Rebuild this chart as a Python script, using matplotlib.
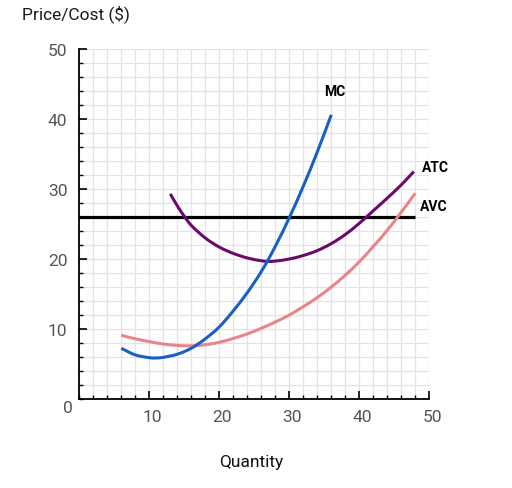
import matplotlib
matplotlib.use("Agg")
import matplotlib.pyplot as plt
from matplotlib.ticker import MultipleLocator
from matplotlib.transforms import ScaledTranslation
from matplotlib.path import Path
from matplotlib.patches import PathPatch

plt.rcParams['font.family'] = ['Roboto', 'DejaVu Sans']

# Data
mc_x = [6, 8, 10, 11, 12, 14, 16, 18, 20, 22, 24, 26, 28, 30, 32, 34, 36]
mc_y = [7.24, 6.3, 5.9, 5.86, 5.95, 6.4, 7.25, 8.6, 10.3, 12.6, 15.2, 18.2, 21.8, 25.9, 30.4, 35.3, 40.6]

avc_x = [6, 8, 10, 12, 14, 16, 18, 20, 22, 24, 26, 28, 30, 32, 34, 36, 38, 40, 42, 44, 46, 48]
avc_y = [9.1, 8.6, 8.2, 7.85, 7.65, 7.6, 7.75, 8.1, 8.65, 9.3, 10.1, 11.0, 12.0, 13.2, 14.5, 16.0, 17.7, 19.6, 21.8, 24.1, 26.7, 29.4]

atc_x = [13, 14, 15, 16, 18, 20, 22, 24, 26, 27, 28, 30, 32, 34, 36, 38, 40, 42, 44, 46, 47.8]
atc_y = [29.3, 27.6, 26.1, 24.8, 23.0, 21.7, 20.8, 20.15, 19.75, 19.65, 19.7, 20.0, 20.5, 21.2, 22.2, 23.5, 25.1, 26.9, 28.7, 30.6, 32.5]

price_x = [0, 48]
price_y = [26, 26]

x_ticks = [10, 20, 30, 40, 50]
y_ticks = [10, 20, 30, 40, 50]


def smooth_path(xs, ys):
    """Cubic Hermite (Bezier) path through the given points."""
    n = len(xs)
    m = []
    for i in range(n):
        if i == 0:
            m.append((ys[1] - ys[0]) / (xs[1] - xs[0]))
        elif i == n - 1:
            m.append((ys[-1] - ys[-2]) / (xs[-1] - xs[-2]))
        else:
            m.append((ys[i + 1] - ys[i - 1]) / (xs[i + 1] - xs[i - 1]))
    verts = [(xs[0], ys[0])]
    codes = [Path.MOVETO]
    for i in range(n - 1):
        h = xs[i + 1] - xs[i]
        verts += [(xs[i] + h / 3, ys[i] + m[i] * h / 3),
                  (xs[i + 1] - h / 3, ys[i + 1] - m[i + 1] * h / 3),
                  (xs[i + 1], ys[i + 1])]
        codes += [Path.CURVE4] * 3
    return Path(verts, codes)


fig = plt.figure(figsize=(5.12, 4.89), dpi=100)
ax = fig.add_axes([79.3 / 512, 1 - 400 / 489, 350 / 512, 350 / 489])

ax.set_xlim(0, 50)
ax.set_ylim(0, 50)

ax.xaxis.set_minor_locator(MultipleLocator(2))
ax.yaxis.set_minor_locator(MultipleLocator(2))
ax.set_xticks(x_ticks)
ax.set_yticks(y_ticks)
ax.grid(which='both', color='#e3e3e3', linewidth=0.9, zorder=0)
ax.set_axisbelow(True)

for s in ['top', 'right']:
    ax.spines[s].set_visible(False)
for s in ['left', 'bottom']:
    ax.spines[s].set_linewidth(1.3)
    ax.spines[s].set_color('black')

ax.tick_params(which='major', direction='in', length=6, width=1.2, labelsize=12.5,
               labelcolor='#555555', color='black')
ax.tick_params(which='minor', direction='in', length=3, width=1.0, color='black')
ax.tick_params(axis='x', which='major', pad=7)
ax.tick_params(axis='y', which='major', pad=8.5)

for lab in ax.get_xticklabels():
    lab.set_transform(lab.get_transform() + ScaledTranslation(3 / 100, 0, fig.dpi_scale_trans))

ax.text(-0.032, -0.023, '0', transform=ax.transAxes, ha='center', va='center',
        fontsize=12.5, color='#555555')

ax.plot(price_x, price_y, color='black', linewidth=2.3, solid_capstyle='butt', zorder=3, clip_on=False)
for xs, ys, col, z in [(avc_x, avc_y, '#e8858a', 4), (atc_x, atc_y, '#6b0a6b', 4), (mc_x, mc_y, '#1a5fc4', 5)]:
    ax.add_patch(PathPatch(smooth_path(xs, ys), facecolor='none', edgecolor=col,
                           linewidth=2.2, capstyle='butt', joinstyle='round', zorder=z))

fig.text(22 / 512, 1 - 14 / 489, 'Price/Cost ($)', ha='left', va='center', fontsize=12.5, color='#1a1a1a')
fig.text(251 / 512, 1 - 463 / 489, 'Quantity', ha='center', va='center', fontsize=12.5, color='#111111')

fig.text(334.5 / 512, 1 - 92 / 489, 'MC', ha='center', va='center', fontsize=10, fontweight='bold', color='black')
fig.text(435 / 512, 1 - 167.5 / 489, 'ATC', ha='center', va='center', fontsize=10, fontweight='bold', color='black')
fig.text(434 / 512, 1 - 207.5 / 489, 'AVC', ha='center', va='center', fontsize=10, fontweight='bold', color='black')

fig.savefig('out.png', dpi=100)
